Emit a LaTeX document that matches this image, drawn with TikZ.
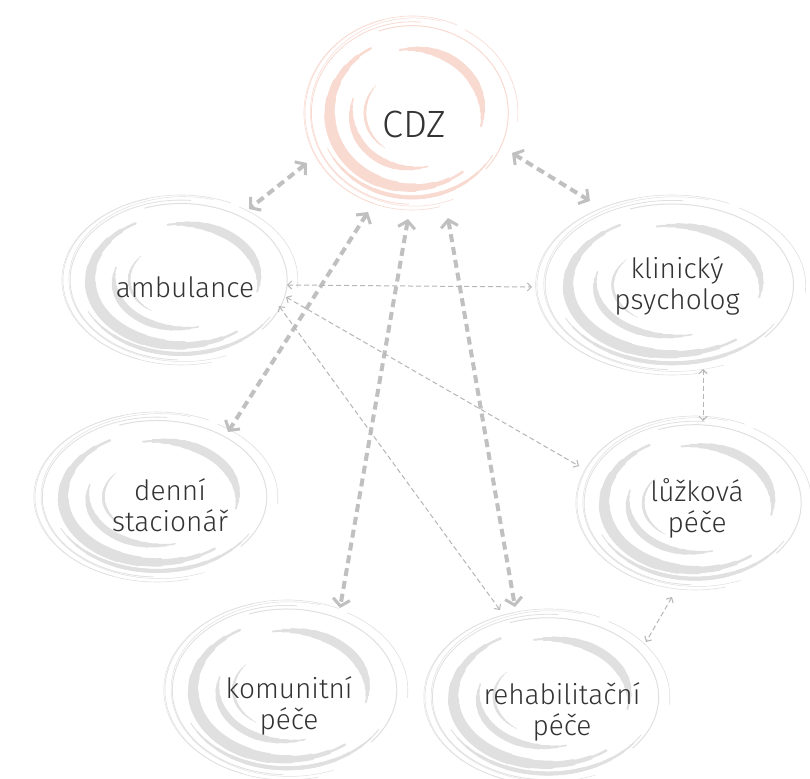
\documentclass[tikz,border=0pt]{standalone}
\usepackage{fontspec}
\setmainfont{Fira Sans Light}
\usetikzlibrary{arrows.meta}
\definecolor{swgray}{HTML}{E0E0E0}
\definecolor{swpink}{HTML}{F9DAD0}
\definecolor{txt}{HTML}{333333}
\definecolor{arr}{HTML}{C0C0C0}
\definecolor{arrthin}{HTML}{B6B6B6}

\newcommand\swtaper[4]{%
 \foreach \swF/\swW in {0/0.22,0.06/0.4,0.12/0.58,0.19/0.76,0.26/0.9,0.33/1}{%
  \pgfmathsetmacro\swAa{#1+\swF*(#2-#1)}%
  \pgfmathsetmacro\swAb{#2-\swF*(#2-#1)}%
  \pgfmathsetmacro\swWa{\swW*#4}%
  \draw[line width=\swWa pt] (\swAa:#3) arc[start angle=\swAa,end angle=\swAb,radius=#3];
 }}

\newcommand\swirl[5]{%
\begin{scope}[shift={(#1,#2)},x=#3pt,y=#4pt,color=#5,line cap=round]
 \draw[line width=0.6pt] (65:1) arc[start angle=65,end angle=285,radius=1];
 \draw[line width=0.5pt] (0.02,0.01) ++(75:0.97) arc[start angle=75,end angle=292,radius=0.97];
 \draw[line width=0.8pt] (85:0.94) arc[start angle=85,end angle=268,radius=0.94];
 \draw[line width=0.5pt] (-0.02,0) ++(105:0.99) arc[start angle=105,end angle=250,radius=0.99];
 \draw[line width=1pt] (110:0.9) arc[start angle=110,end angle=-40,radius=0.9];
 \draw[line width=0.6pt] (60:0.99) arc[start angle=60,end angle=-5,radius=0.99];
 \swtaper{120}{308}{0.77}{11}
 \swtaper{100}{-12}{0.66}{9}
 \swtaper{165}{285}{0.57}{7}
 \swtaper{205}{330}{0.87}{4}
 \swtaper{140}{235}{0.44}{2.5}
\end{scope}}

\tikzset{
 lbl/.style={text=txt,align=center,font=\fontsize{28}{31}\selectfont,inner sep=0pt},
 bigarrow/.style={draw=arr,line width=4pt,dash pattern=on 8pt off 5pt,
   {Straight Barb[length=7pt,width=17pt,line width=3pt]}-{Straight Barb[length=7pt,width=17pt,line width=3pt]}},
 thinarrow/.style={draw=arrthin,line width=1pt,dash pattern=on 5pt off 3pt,
   {Straight Barb[length=4pt,width=8pt,line width=1pt]}-{Straight Barb[length=4pt,width=8pt,line width=1pt]}}
}

\begin{document}
\begin{tikzpicture}[x=1pt,y=1pt]
\useasboundingbox (0,0) rectangle (810,-778);
\fill[white] (0,0) rectangle (810,-778);

% swirls
\swirl{412}{-113}{107}{97}{swpink}
\swirl{181}{-280}{118}{85}{swgray}
\swirl{672}{-285}{135}{90}{swgray}
\swirl{157}{-497}{122}{85}{swgray}
\swirl{695}{-503}{118}{87}{swgray}
\swirl{287}{-690}{122}{90}{swgray}
\swirl{548}{-697}{123}{88}{swgray}

% labels
\node[lbl] (cdz) at (414,-124) {\fontsize{38}{42}\selectfont CDZ};
\node[lbl] (amb) at (185,-287) {ambulance};
\node[lbl] (klin) at (677,-286) {klinický\\psycholog};
\node[lbl] (den) at (170,-505) {denní\\stacionář};
\node[lbl] (luz) at (697,-508) {lůžková\\péče};
\node[lbl] (kom) at (289,-706) {komunitní\\péče};
\node[lbl] (reh) at (562,-712) {rehabilitační\\péče};

% connector ends
\coordinate (cdzA) at (307,-163); \coordinate (ambA) at (249,-209);
\coordinate (cdzB) at (512,-153); \coordinate (klinA) at (590,-201);
\coordinate (cdzC) at (368,-212); \coordinate (denA) at (228,-432);
\coordinate (cdzD) at (408,-219); \coordinate (komA) at (340,-608);
\coordinate (cdzE) at (448,-218); \coordinate (rehA) at (515,-607);
\coordinate (ambB) at (287,-285); \coordinate (klinB) at (532,-287);
\coordinate (ambC) at (286,-297); \coordinate (luzA) at (579,-466);
\coordinate (ambD) at (279,-306); \coordinate (rehB) at (500,-610);
\coordinate (klinC) at (703,-369); \coordinate (luzB) at (703,-421);
\coordinate (luzC) at (672,-597); \coordinate (rehC) at (646,-642);

% thick connectors
\draw[bigarrow] (cdzA) -- (ambA);
\draw[bigarrow] (cdzB) -- (klinA);
\draw[bigarrow] (cdzC) -- (denA);
\draw[bigarrow] (cdzD) -- (komA);
\draw[bigarrow] (cdzE) -- (rehA);
% thin connectors
\draw[thinarrow] (ambB) -- (klinB);
\draw[thinarrow] (ambC) -- (luzA);
\draw[thinarrow] (ambD) -- (rehB);
\draw[thinarrow] (klinC) -- (luzB);
\draw[thinarrow] (luzC) -- (rehC);
\end{tikzpicture}
\end{document}
